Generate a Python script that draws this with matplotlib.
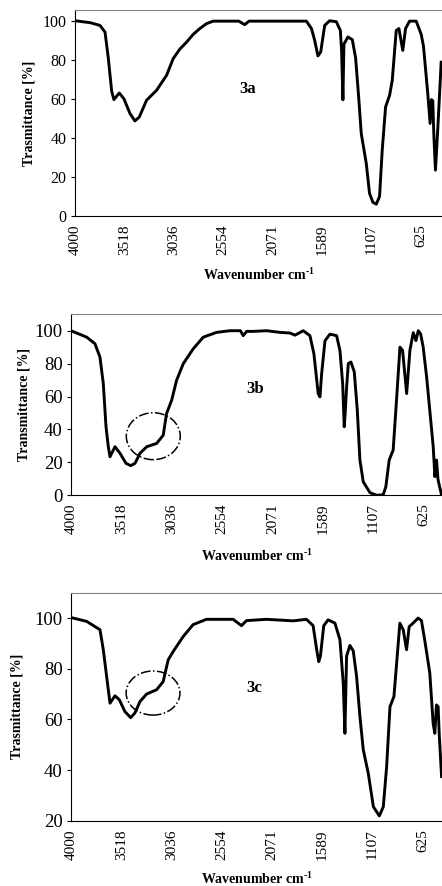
#!/usr/bin/env python3
import matplotlib
matplotlib.use('Agg')
import matplotlib.pyplot as plt
from matplotlib.patches import Ellipse

plt.rcParams['font.family'] = ['Liberation Serif', 'DejaVu Serif']
plt.rcParams['mathtext.fontset'] = 'custom'
plt.rcParams['mathtext.rm'] = 'Liberation Serif:bold'
plt.rcParams['mathtext.bf'] = 'Liberation Serif:bold'

# spectrum 3a
wn_a = [4000, 3850, 3756, 3707, 3675, 3642, 3620, 3568, 3522, 3463, 3415, 3372,
        3301, 3203, 3106, 3041, 2976, 2911, 2846, 2781, 2716, 2651, 2400, 2342,
        2300, 1740, 1690, 1659, 1627, 1600, 1561, 1513, 1447, 1408, 1396, 1383,
        1373, 1334, 1291, 1259, 1227, 1204, 1155, 1123, 1090, 1057, 1025, 999,
        966, 927, 901, 862, 836, 798, 771, 732, 667, 618, 596, 554, 531, 518,
        505, 495, 479, 459, 446, 423]
t_a = [100, 99, 97.6, 94.2, 81, 64, 59.6, 63, 60, 52.5, 48.7, 50.7,
       59.3, 64.4, 72, 80.6, 85.5, 89, 93, 96, 98.5, 99.8, 99.8, 98,
       99.8, 99.8, 96, 90, 82, 84, 97.6, 100, 99.5, 95, 85, 59.5,
       88, 91.7, 90.3, 81, 59.5, 42.3, 27, 11.6, 7, 6.1, 10, 33.7,
       55.9, 61.8, 69.5, 95, 96, 84.8, 96, 99.8, 99.8, 93, 87, 62.7, 47.4, 59.6,
       59, 42, 23.5, 42, 55, 78.8]

# spectrum 3b
wn_b = [4000, 3850, 3771, 3723, 3691, 3665, 3643, 3627, 3579, 3531, 3474, 3429,
        3388, 3340, 3276, 3181, 3118, 3086, 3037, 2990, 2926, 2831, 2735, 2607,
        2480, 2380, 2353, 2320, 2257, 2129, 2002, 1906, 1858, 1779, 1715, 1677,
        1636, 1619, 1603, 1571, 1524, 1460, 1428, 1402, 1387, 1377, 1364, 1348,
        1323, 1291, 1262, 1237, 1205, 1141, 1077, 1014, 989, 957, 919, 887, 854,
        829, 790, 759, 727, 701, 679, 656, 632, 599, 536, 520, 504, 491, 475, 459]
t_b = [100, 96.1, 92.1, 84, 67.9, 41.6, 29.5, 23.4, 29.5, 25.5, 19.4, 18,
       19.4, 25.5, 29.5, 31.5, 36.5, 49.7, 57.8, 69.9, 80, 89, 96.1, 99,
       100, 100, 97, 99.6, 99.6, 100, 99, 98.6, 97.3, 100, 97, 86,
       61.8, 59.8, 73.9, 93.9, 97.9, 97, 88, 67.9, 41.6, 51, 65.9, 80,
       81, 75, 51.7, 21.4, 8.2, 1.6, 0, 0.3, 5.2, 21.4, 27.5, 57.8, 90,
       88, 61.8, 88, 98.8, 94, 100, 98, 90, 71.9, 29.5, 11.3, 21.4, 10, 5.2, 1]

# spectrum 3c
wn_c = [4000, 3850, 3722, 3690, 3658, 3626, 3578, 3537, 3483, 3428, 3387, 3339,
        3275, 3179, 3116, 3068, 3020, 2924, 2829, 2701, 2445, 2365, 2317, 2125,
        1870, 1742, 1678, 1646, 1624, 1608, 1576, 1534, 1469, 1421, 1389, 1373,
        1357, 1325, 1293, 1261, 1229, 1197, 1149, 1100, 1043, 1005, 973, 941,
        903, 877, 846, 814, 782, 757, 719, 671, 639, 608, 559, 527, 511, 495,
        479, 469, 446]
t_c = [100.2, 98.7, 95.4, 87.5, 76.9, 66.4, 69.3, 67.8, 63.1, 60.7, 62.5, 67,
       70, 71.7, 74.9, 83.5, 86.8, 92.7, 97.4, 99.5, 99.5, 97, 99, 99.5,
       98.9, 99.5, 97, 88.1, 82.8, 85, 97, 99.3, 98, 91.5, 74.3, 54.5,
       85, 89.2, 87, 76.9, 61.1, 48, 38.7, 25.5, 21.9, 25.5, 41.3, 65,
       69, 82.2, 98, 95.4, 87.5, 96.6, 98, 100, 99, 91.4, 78.3, 58.5, 54.5, 65.7,
       65, 54.5, 37.4]

xticks = [4000, 3518, 3036, 2554, 2071, 1589, 1107, 625]
panels = [
    # wn, t, name, ylabel, ylim, yticks, rect, xright, ytick size, text pos, label coords
    (wn_a, t_a, '3a', 'Trasmittance [%]', (0, 105.5), [0, 20, 40, 60, 80, 100],
     [0.1697, 0.7562, 0.8303, 0.2325], 415, 11.5, (2313, 65), -0.108, -0.243),
    (wn_b, t_b, '3b', 'Transmittance [%]', (0, 110), [0, 20, 40, 60, 80, 100],
     [0.1606, 0.4410, 0.8394, 0.2043], 452, 13.5, (2241, 64.4), -0.11, -0.286),
    (wn_c, t_c, '3c', 'Trasmittance [%]', (20, 110), [20, 40, 60, 80, 100],
     [0.1606, 0.0737, 0.8394, 0.2573], 442, 13.5, (2241, 72.3), -0.127, -0.216),
]
circles = {'3b': (3213, 35.9, 516, 28.5), '3c': (3213, 70.4, 516, 17.4)}

fig = plt.figure(figsize=(4.42, 8.86), dpi=100)
for wn, t, name, ylab, ylim, yt, rect, xr, ysz, tpos, ylx, xly in panels:
    ax = fig.add_axes(rect)
    ax.plot(wn, t, color='black', lw=2.1, solid_joinstyle='round')
    ax.set_xlim(4000, xr)
    ax.set_ylim(*ylim)
    ax.set_xticks(xticks)
    ax.set_xticklabels([str(v) for v in xticks], rotation=90, fontsize=11)
    ax.set_yticks(yt)
    ax.tick_params(axis='y', labelsize=ysz, length=3, pad=3, direction='out')
    ax.tick_params(axis='x', length=0, pad=6)
    ax.spines['right'].set_visible(False)
    ax.spines['top'].set_color('#808080')
    ax.set_ylabel(ylab, fontsize=10, fontweight='bold')
    ax.yaxis.set_label_coords(ylx, 0.5)
    ax.set_xlabel(r'Wavenumber cm$^{\text{-1}}$', fontsize=10, fontweight='bold')
    ax.xaxis.set_label_coords(0.5, xly)
    ax.text(tpos[0], tpos[1], name, fontsize=12, fontweight='bold',
            ha='center', va='center')
    if name in circles:
        cx, cy, w, h = circles[name]
        ax.add_patch(Ellipse((cx, cy), w, h, fill=False, ls='-.', lw=1.1,
                             color='black'))

plt.savefig('out.png', dpi=100)
plt.close()
